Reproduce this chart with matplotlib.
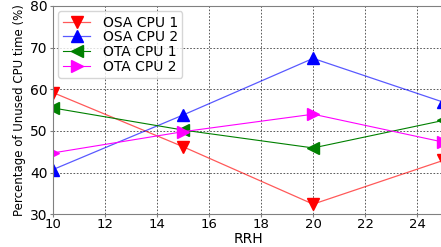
import numpy as np
import matplotlib
matplotlib.use('Agg')
import matplotlib.pyplot as plt

rrh = [10, 15, 20, 25]
osa_cpu1 = [59.2, 46.2, 32.4, 42.9]
osa_cpu2 = [40.7, 53.8, 67.4, 56.9]
ota_cpu1 = [55.5, 50.2, 45.9, 52.5]
ota_cpu2 = [44.7, 49.8, 54.0, 47.3]

fig = plt.figure(figsize=(4.41, 2.47), dpi=100)
ax = fig.add_axes([0.12, 0.133, 0.885, 0.843])

ax.plot(rrh, osa_cpu1, color=(1, 0, 0, 0.65), marker='v', mfc='red', mec='red',
        markersize=8, lw=0.9, label='OSA CPU 1')
ax.plot(rrh, osa_cpu2, color=(0, 0, 1, 0.65), marker='^', mfc='blue', mec='blue',
        markersize=8, lw=0.9, label='OSA CPU 2')
ax.plot(rrh, ota_cpu1, color='green', marker='<', markersize=8, lw=0.8, label='OTA CPU 1')
ax.plot(rrh, ota_cpu2, color='magenta', marker='>', markersize=8, lw=0.8, label='OTA CPU 2')

ax.set_xlim(10, 25)
ax.set_ylim(30, 80)
ax.set_xticks([10, 12, 14, 16, 18, 20, 22, 24])
ax.set_yticks([30, 40, 50, 60, 70, 80])
ax.grid(True, color='k', linestyle=(0, (2, 2)), lw=0.6, alpha=0.75)
ax.tick_params(labelsize=10, length=2, color='gray', pad=2)
ax.tick_params(axis='x', pad=0.5, labelsize=9.5)
for s in ax.spines.values():
    s.set_color('gray')

ax.set_ylabel('Percentage of Unused CPU time (%)', fontsize=8.5, labelpad=3)
ax.set_xlabel('RRH', fontsize=10, va='bottom')
ax.xaxis.set_label_coords(0.5, -0.155)

ax.legend(loc='upper left', fontsize=10, borderaxespad=0.4, labelspacing=0.05,
          borderpad=0.3, handletextpad=0.9)

fig.savefig('out.png', dpi=100)
